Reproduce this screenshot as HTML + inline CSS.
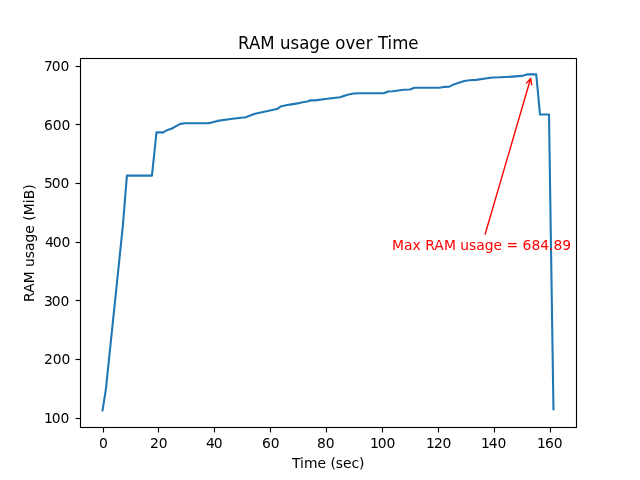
<!DOCTYPE html>
<html lang="en">
<head>
<meta charset="utf-8">
<title>RAM usage over Time</title>
<style>
html,body{margin:0;padding:0;background:#fff;width:640px;height:480px;overflow:hidden}
svg{display:block}
text{font-family:"DejaVu Sans","Liberation Sans",sans-serif;fill:#000;white-space:pre}
.t10{font-size:13.889px}
.t12{font-size:17.8px}
.red{fill:#ff0000}
.sp{stroke:#000;stroke-width:1.11;fill:none;stroke-linecap:square}
.tk{stroke:#000;stroke-width:1.11;fill:none;stroke-linecap:butt}
</style>
</head>
<body>
<svg width="640" height="480" viewBox="0 0 640 480">
<rect x="0" y="0" width="640" height="480" fill="#ffffff"/>


<g class="tk">
<line x1="103.5" y1="428" x2="103.5" y2="432.5"/>
<line x1="158.5" y1="428" x2="158.5" y2="432.5"/>
<line x1="214.5" y1="428" x2="214.5" y2="432.5"/>
<line x1="270.5" y1="428" x2="270.5" y2="432.5"/>
<line x1="326.5" y1="428" x2="326.5" y2="432.5"/>
<line x1="382.5" y1="428" x2="382.5" y2="432.5"/>
<line x1="438.5" y1="428" x2="438.5" y2="432.5"/>
<line x1="494.5" y1="428" x2="494.5" y2="432.5"/>
<line x1="550.5" y1="428" x2="550.5" y2="432.5"/>
<line x1="75.5" y1="66.5" x2="80" y2="66.5"/>
<line x1="75.5" y1="124.5" x2="80" y2="124.5"/>
<line x1="75.5" y1="183.5" x2="80" y2="183.5"/>
<line x1="75.5" y1="242.5" x2="80" y2="242.5"/>
<line x1="75.5" y1="300.5" x2="80" y2="300.5"/>
<line x1="75.5" y1="359.5" x2="80" y2="359.5"/>
<line x1="75.5" y1="418.5" x2="80" y2="418.5"/>
</g>
<polyline points="102.55,410.40 105.90,389.05 122.90,225.30 126.90,175.60 151.95,175.60 156.50,132.40 163.40,132.40 166.25,130.50 171.90,128.50 180.20,123.90 185.60,123.30 208.75,123.20 217.50,120.90 232.50,118.80 245.60,117.20 255.00,113.80 276.90,109.05 281.25,106.20 290.00,104.60 297.50,103.40 302.50,102.20 307.50,101.55 310.60,100.30 315.00,100.40 327.50,98.80 340.00,97.20 347.50,94.70 353.75,93.55 360.00,93.30 383.75,93.30 388.10,91.55 392.50,91.30 403.75,89.70 410.00,89.55 414.40,87.80 439.40,87.70 443.75,86.90 449.40,86.70 453.75,84.40 458.75,82.80 464.30,81.00 469.50,80.20 476.25,79.90 483.75,78.70 492.50,77.55 500.00,77.30 512.50,76.60 521.70,75.90 526.90,74.40 531.60,74.40 536.25,74.40 540.00,114.55 549.00,114.55 553.45,409.10" fill="none" stroke="#1f77b4" stroke-width="2.083" stroke-linejoin="round" stroke-linecap="square"/>
<rect class="sp" x="80.5" y="58.5" width="496" height="369"/>
<g stroke="#ff0000" stroke-width="1.389" fill="none" stroke-linecap="round" stroke-linejoin="round"><path d="M485.21 233.97L530.63 78.56"/><path d="M526.41 83.11L530.63 78.56L531.74 84.67"/></g>

<g>
<text class="t10" x="99.08" y="447.9">0</text>
<text class="t10" x="149.91 158.75" y="447.9">20</text>
<text class="t10" x="205.91 213.75" y="447.9">40</text>
<text class="t10" x="261.91 270.75" y="447.9">60</text>
<text class="t10" x="316.91 325.75" y="447.9">80</text>
<text class="t10" x="370 377.83 386.42" y="447.9">100</text>
<text class="t10" x="426 434.08 442.42" y="447.9">120</text>
<text class="t10" x="481 488.83 497.42" y="447.9">140</text>
<text class="t10" x="537 545.08 553.67" y="447.9">160</text>
<text class="t10" x="44.04 51.63 60.46" y="70.9">700</text>
<text class="t10" x="44.04 52.63 61.46" y="129.9">600</text>
<text class="t10" x="44.04 51.63 60.46" y="187.9">500</text>
<text class="t10" x="45.04 52.63 61.46" y="246.9">400</text>
<text class="t10" x="44.04 51.63 60.46" y="305.9">300</text>
<text class="t10" x="44.04 52.63 61.46" y="363.9">200</text>
<text class="t10" x="44.04 51.63 60.46" y="422.9">100</text>
<text class="t10" x="291.96 299.94 304.05 317.58 326.12 330.54 335.71 342.94 351.49 359.12" y="467.6">Time (sec)</text>
<text class="t10" transform="translate(33.5,242.4) rotate(-90)" x="-59.54 -50.39 -40.89 -28.91 -24.49 -15.94 -8.7 -0.19 8.62 17.42 21.58 27.25 39.24 43.09 52.62" y="0">RAM usage (MiB)</text>
<text class="t12" transform="scale(0.934,1)" x="254.78 266.62 278.53 294.15 299.81 311.09 320.36 331 342.3 353.52 358.91 369.8 380.34 391.56 398.87 404.8 414.87 420.08 437.15" y="48.9">RAM usage over Time</text>
<text class="t10 red" x="391.9 403.88 412.39 420.36 425.28 434.18 443.93 455.91 460.33 468.88 476.37 484.63 493.44 502.24 506.4 518.29 522.46 531.54 540.13 548.97 553.38 562.22" y="250">Max RAM usage = 684.89</text>
</g>
</svg>
</body>
</html>
